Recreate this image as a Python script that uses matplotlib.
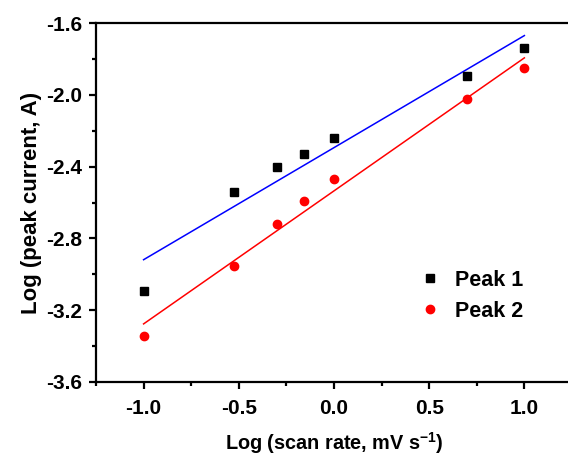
import numpy as np
import matplotlib
matplotlib.use("Agg")
import matplotlib.pyplot as plt
from matplotlib.ticker import MultipleLocator

plt.rcParams['font.family'] = ['Liberation Sans', 'DejaVu Sans']
plt.rcParams['font.weight'] = 'bold'
plt.rcParams['mathtext.fontset'] = 'custom'
plt.rcParams['mathtext.rm'] = 'Liberation Sans:bold'
plt.rcParams['mathtext.bf'] = 'Liberation Sans:bold'
plt.rcParams['mathtext.default'] = 'bf'

log_scan = [-1.0, -0.523, -0.301, -0.155, 0.0, 0.699, 1.0]
peak1 = [-3.091, -2.540, -2.399, -2.330, -2.239, -1.892, -1.741]
peak2 = [-3.342, -2.952, -2.722, -2.592, -2.471, -2.022, -1.851]
xtick_vals = [-1.0, -0.5, 0.0, 0.5, 1.0]
xtick_labels = ['-1.0', '-0.5', '0.0', '0.5', '1.0']
ytick_vals = [-3.6, -3.2, -2.8, -2.4, -2.0, -1.6]
ytick_labels = ['-3.6', '-3.2', '-2.8', '-2.4', '-2.0', '-1.6']

fig = plt.figure(figsize=(5.68, 4.63), dpi=100)
ax = fig.add_axes([0.169, 0.175, 0.838, 0.775])

x = np.array(log_scan)
xf = np.array([x.min(), x.max()])
p1 = np.polyfit(x, peak1, 1)
p2 = np.polyfit(x, peak2, 1)
ax.plot(xf, np.polyval(p1, xf), color='#0000ff', lw=1.1, zorder=2)
ax.plot(xf, np.polyval(p2, xf), color='#ff0000', lw=1.1, zorder=2)
ax.plot(x, peak1, 's', color='black', ms=5.3, ls='none', label='Peak 1', zorder=3)
ax.plot(x, peak2, 'o', color='#ff0000', ms=6, ls='none', label='Peak 2', zorder=3)

ax.set_xlim(-1.25, 1.25)
ax.set_ylim(-3.6, -1.6)
ax.xaxis.set_minor_locator(MultipleLocator(0.25))
ax.yaxis.set_minor_locator(MultipleLocator(0.2))
ax.set_xticks(xtick_vals)
ax.set_xticklabels(xtick_labels)
ax.set_yticks(ytick_vals)
ax.set_yticklabels(ytick_labels)

for s in ax.spines.values():
    s.set_linewidth(1.6)
ax.tick_params(which='major', direction='out', length=5, width=1.6, labelsize=15)
ax.tick_params(axis='x', which='major', pad=7)
ax.tick_params(axis='y', which='major', pad=5)
ax.tick_params(which='minor', direction='out', length=3, width=1.6)
ax.tick_params(top=False, right=False, which='both')

ax.set_xlabel('Log (scan rate, mV s$^{-1}$)', fontsize=14.3, fontweight='bold', labelpad=9)
ax.set_ylabel('Log (peak current, A)', fontsize=16, fontweight='bold', labelpad=3)

ax.legend(frameon=False, loc='center left', bbox_to_anchor=(0.638, 0.24),
          prop={'size': 15.5, 'weight': 'bold'}, handletextpad=0.66, labelspacing=0.45,
          handlelength=1.0, borderpad=0.4)

fig.savefig('out.png', dpi=100)
